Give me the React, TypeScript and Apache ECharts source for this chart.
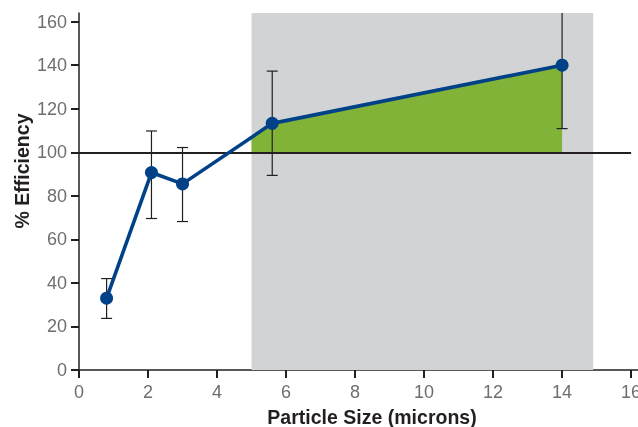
import React, { useEffect, useRef } from "react";
import * as echarts from "echarts";

const xVals = [0.8, 2.1, 3.0, 5.6, 14];
const effVals = [33, 90.7, 85.5, 113.3, 140];
const errLow = [23.7, 69.6, 68.2, 89.4, 110.9];
const errHigh = [42, 109.8, 102.2, 137.3, 170];
const xTicks = [0, 2, 4, 6, 8, 10, 12, 14, 16];
const yTicks = [0, 20, 40, 60, 80, 100, 120, 140, 160];
const shadeRange = [5, 14.9];
const greenRange = [5, 14];
const baseline = 100;

const FONT = "'Liberation Sans', Arial, sans-serif";

function valueAt(x: number): number {
  for (let i = 0; i < xVals.length - 1; i++) {
    if (x >= xVals[i] && x <= xVals[i + 1]) {
      const t = (x - xVals[i]) / (xVals[i + 1] - xVals[i]);
      return effVals[i] + t * (effVals[i + 1] - effVals[i]);
    }
  }
  return effVals[effVals.length - 1];
}

export default function App() {
  const ref = useRef<HTMLDivElement>(null);
  useEffect(() => {
    if (!ref.current) return;
    const chart = echarts.init(ref.current, null, { renderer: "svg", width: 638, height: 427 });
    const lineData = xVals.map((x, i) => [x, effVals[i]]);
    const errData = xVals.map((x, i) => [x, errLow[i], errHigh[i]]);
    chart.setOption({
      animation: false,
      grid: { left: 79, right: 0, top: 13, bottom: 57, containLabel: false, outerBoundsMode: "none" },
      xAxis: {
        type: "value",
        min: 0,
        max: 16.2,
        interval: 2,
        axisLine: { show: true, lineStyle: { color: "#231f20", width: 1.5 } },
        axisTick: { show: true, customValues: xTicks, length: 8, lineStyle: { color: "#231f20", width: 2 } },
        axisLabel: { customValues: xTicks, color: "#6d6e71", fontSize: 18, fontFamily: FONT, margin: 13 },
        splitLine: { show: false },
      },
      yAxis: {
        type: "value",
        min: 0,
        max: 164,
        interval: 20,
        axisLine: { show: true, lineStyle: { color: "#231f20", width: 1.5 } },
        axisTick: { show: true, customValues: yTicks, length: 8, lineStyle: { color: "#231f20", width: 2 } },
        axisLabel: { customValues: yTicks, color: "#6d6e71", fontSize: 18, fontFamily: FONT, margin: 12 },
        splitLine: { show: false },
      },
      graphic: [
        {
          type: "text",
          x: 372,
          y: 417,
          scaleX: 0.93,
          style: {
            text: "Particle Size (microns)",
            fontFamily: FONT,
            fontWeight: "bold",
            fontSize: 21,
            fill: "#231f20",
            align: "center",
            verticalAlign: "middle",
          },
        },
        {
          type: "text",
          x: 22,
          y: 171,
          rotation: Math.PI / 2,
          scaleX: 0.93,
          style: {
            text: "% Efficiency",
            fontFamily: FONT,
            fontWeight: "bold",
            fontSize: 21,
            fill: "#231f20",
            align: "center",
            verticalAlign: "middle",
          },
        },
      ],
      series: [
        {
          type: "line",
          data: [],
          z: 1,
          silent: true,
          markArea: {
            silent: true,
            itemStyle: { color: "#d1d3d4" },
            data: [[{ xAxis: shadeRange[0] }, { xAxis: shadeRange[1] }]],
          },
        },
        {
          type: "custom",
          z: 2,
          silent: true,
          clip: true,
          data: [[0]],
          renderItem: (params: any, api: any) => {
            const pts: number[][] = [];
            pts.push(api.coord([greenRange[0], baseline]));
            pts.push(api.coord([greenRange[0], valueAt(greenRange[0])]));
            xVals.forEach((x, i) => {
              if (x > greenRange[0] && x < greenRange[1]) pts.push(api.coord([x, effVals[i]]));
            });
            pts.push(api.coord([greenRange[1], valueAt(greenRange[1])]));
            pts.push(api.coord([greenRange[1], baseline]));
            return { type: "polygon", shape: { points: pts }, style: { fill: "#80b337" } };
          },
        },
        {
          type: "line",
          data: [],
          z: 3,
          silent: true,
          markLine: {
            silent: true,
            symbol: "none",
            label: { show: false },
            lineStyle: { color: "#231f20", width: 1.8, type: "solid" },
            data: [[{ coord: [0, baseline] }, { coord: [16, baseline] }]],
          },
        },
        {
          type: "custom",
          z: 4,
          silent: true,
          clip: true,
          data: errData,
          renderItem: (params: any, api: any) => {
            const x = api.value(0);
            const lo = api.coord([x, api.value(1)]);
            const hi = api.coord([x, api.value(2)]);
            const w = 5.5;
            const st = { stroke: "#231f20", lineWidth: 1.2 };
            return {
              type: "group",
              children: [
                { type: "line", shape: { x1: lo[0], y1: lo[1], x2: hi[0], y2: hi[1] }, style: st },
                { type: "line", shape: { x1: lo[0] - w, y1: lo[1], x2: lo[0] + w, y2: lo[1] }, style: st },
                { type: "line", shape: { x1: hi[0] - w, y1: hi[1], x2: hi[0] + w, y2: hi[1] }, style: st },
              ],
            };
          },
        },
        {
          type: "line",
          z: 5,
          data: lineData,
          symbol: "circle",
          symbolSize: 13,
          itemStyle: { color: "#004187" },
          lineStyle: { color: "#004187", width: 3.6 },
        },
      ],
    });
    return () => chart.dispose();
  }, []);
  return <div ref={ref} style={{ position: "fixed", left: 0, top: 0, width: 638, height: 427 }} />;
}
